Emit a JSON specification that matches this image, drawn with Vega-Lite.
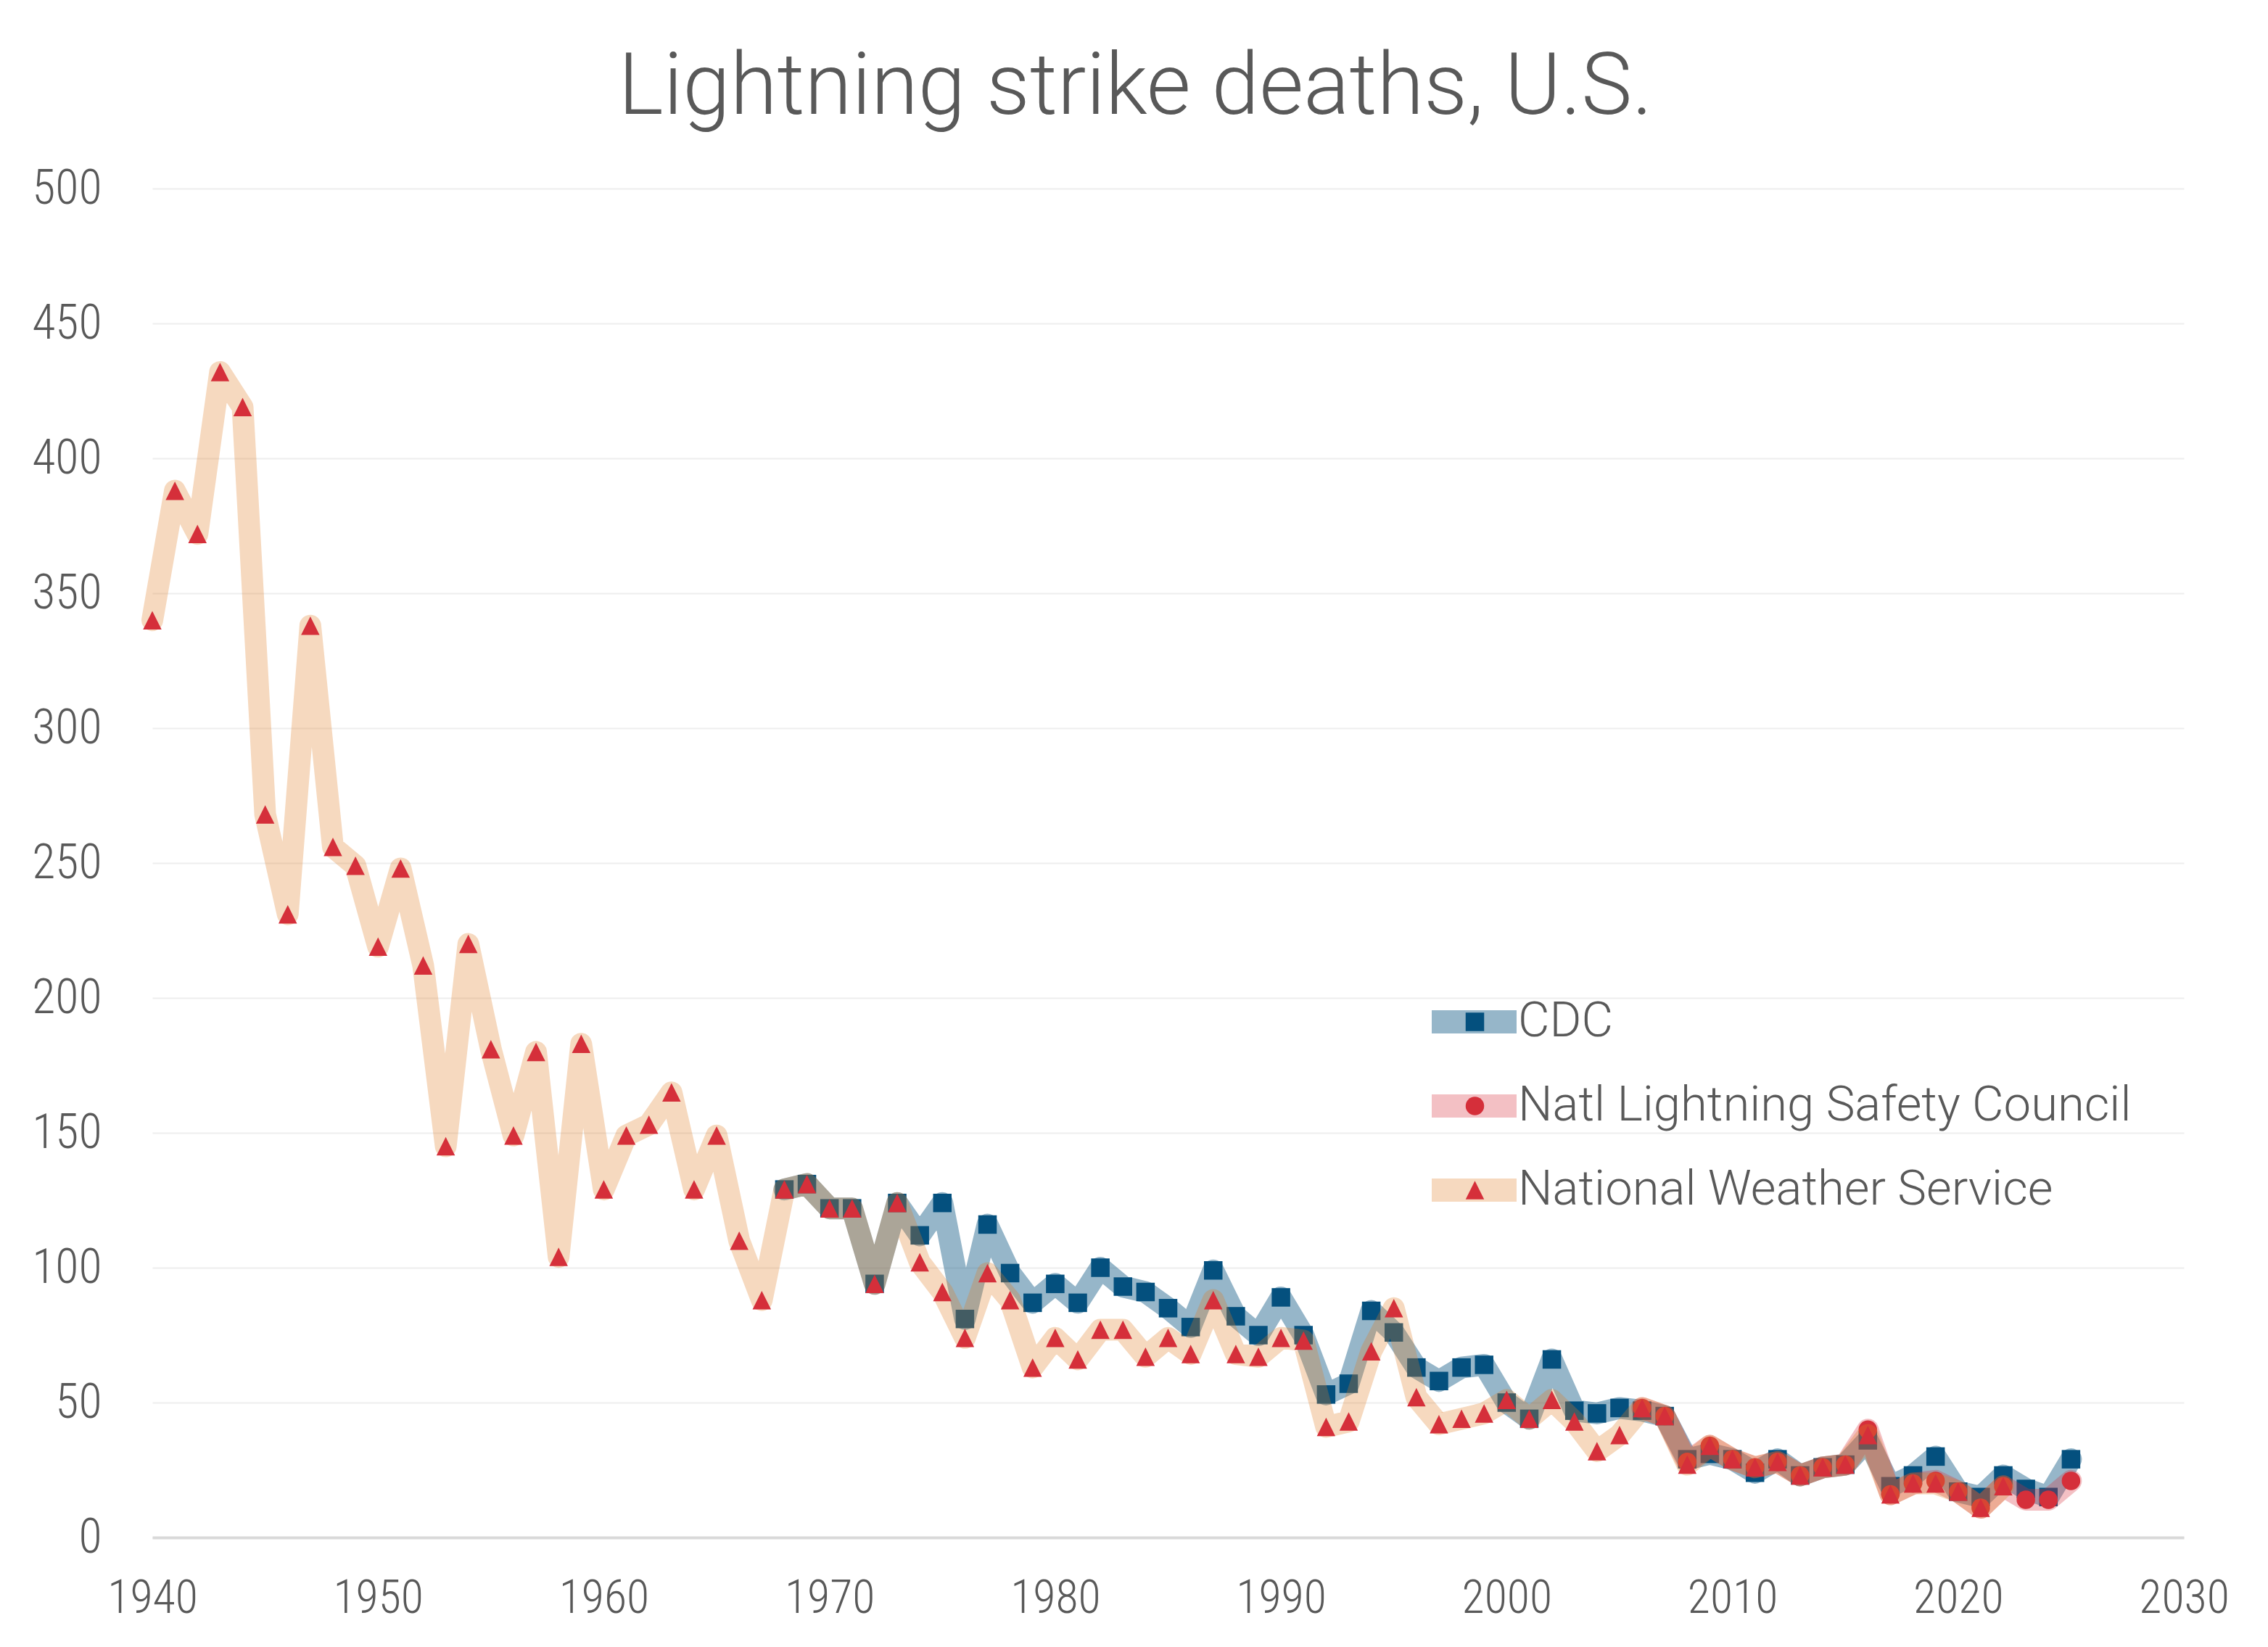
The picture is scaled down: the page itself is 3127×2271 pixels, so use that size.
{
  "$schema": "https://vega.github.io/schema/vega-lite/v6.json",
  "description": "Lightning strike deaths in the U.S., three sources.",
  "width": 2801,
  "height": 1860,
  "autosize": {"type": "none"},
  "padding": {"left": 210, "top": 260, "right": 116, "bottom": 151},
  "background": "white",
  "title": {
    "text": "Lightning strike deaths, U.S.",
    "fontSize": 118,
    "font": "Roboto, sans-serif",
    "fontWeight": 300,
    "color": "#595959",
    "anchor": "middle",
    "frame": "bounds",
    "dx": 7,
    "offset": 45
  },
  "data": {
    "values": [
      {"year": 1968, "deaths": 129, "series": "CDC"},
      {"year": 1969, "deaths": 131, "series": "CDC"},
      {"year": 1970, "deaths": 122, "series": "CDC"},
      {"year": 1971, "deaths": 122, "series": "CDC"},
      {"year": 1972, "deaths": 94, "series": "CDC"},
      {"year": 1973, "deaths": 124, "series": "CDC"},
      {"year": 1974, "deaths": 112, "series": "CDC"},
      {"year": 1975, "deaths": 124, "series": "CDC"},
      {"year": 1976, "deaths": 81, "series": "CDC"},
      {"year": 1977, "deaths": 116, "series": "CDC"},
      {"year": 1978, "deaths": 98, "series": "CDC"},
      {"year": 1979, "deaths": 87, "series": "CDC"},
      {"year": 1980, "deaths": 94, "series": "CDC"},
      {"year": 1981, "deaths": 87, "series": "CDC"},
      {"year": 1982, "deaths": 100, "series": "CDC"},
      {"year": 1983, "deaths": 93, "series": "CDC"},
      {"year": 1984, "deaths": 91, "series": "CDC"},
      {"year": 1985, "deaths": 85, "series": "CDC"},
      {"year": 1986, "deaths": 78, "series": "CDC"},
      {"year": 1987, "deaths": 99, "series": "CDC"},
      {"year": 1988, "deaths": 82, "series": "CDC"},
      {"year": 1989, "deaths": 75, "series": "CDC"},
      {"year": 1990, "deaths": 89, "series": "CDC"},
      {"year": 1991, "deaths": 75, "series": "CDC"},
      {"year": 1992, "deaths": 53, "series": "CDC"},
      {"year": 1993, "deaths": 57, "series": "CDC"},
      {"year": 1994, "deaths": 84, "series": "CDC"},
      {"year": 1995, "deaths": 76, "series": "CDC"},
      {"year": 1996, "deaths": 63, "series": "CDC"},
      {"year": 1997, "deaths": 58, "series": "CDC"},
      {"year": 1998, "deaths": 63, "series": "CDC"},
      {"year": 1999, "deaths": 64, "series": "CDC"},
      {"year": 2000, "deaths": 50, "series": "CDC"},
      {"year": 2001, "deaths": 44, "series": "CDC"},
      {"year": 2002, "deaths": 66, "series": "CDC"},
      {"year": 2003, "deaths": 47, "series": "CDC"},
      {"year": 2004, "deaths": 46, "series": "CDC"},
      {"year": 2005, "deaths": 48, "series": "CDC"},
      {"year": 2006, "deaths": 47, "series": "CDC"},
      {"year": 2007, "deaths": 45, "series": "CDC"},
      {"year": 2008, "deaths": 29, "series": "CDC"},
      {"year": 2009, "deaths": 31, "series": "CDC"},
      {"year": 2010, "deaths": 29, "series": "CDC"},
      {"year": 2011, "deaths": 24, "series": "CDC"},
      {"year": 2012, "deaths": 29, "series": "CDC"},
      {"year": 2013, "deaths": 23, "series": "CDC"},
      {"year": 2014, "deaths": 26, "series": "CDC"},
      {"year": 2015, "deaths": 27, "series": "CDC"},
      {"year": 2016, "deaths": 36, "series": "CDC"},
      {"year": 2017, "deaths": 19, "series": "CDC"},
      {"year": 2018, "deaths": 23, "series": "CDC"},
      {"year": 2019, "deaths": 30, "series": "CDC"},
      {"year": 2020, "deaths": 17, "series": "CDC"},
      {"year": 2021, "deaths": 15, "series": "CDC"},
      {"year": 2022, "deaths": 23, "series": "CDC"},
      {"year": 2023, "deaths": 18, "series": "CDC"},
      {"year": 2024, "deaths": 15, "series": "CDC"},
      {"year": 2025, "deaths": 29, "series": "CDC"},
      {"year": 2006, "deaths": 48, "series": "Natl Lightning Safety Council"},
      {"year": 2007, "deaths": 45, "series": "Natl Lightning Safety Council"},
      {"year": 2008, "deaths": 28, "series": "Natl Lightning Safety Council"},
      {"year": 2009, "deaths": 34, "series": "Natl Lightning Safety Council"},
      {"year": 2010, "deaths": 29, "series": "Natl Lightning Safety Council"},
      {"year": 2011, "deaths": 26, "series": "Natl Lightning Safety Council"},
      {"year": 2012, "deaths": 28, "series": "Natl Lightning Safety Council"},
      {"year": 2013, "deaths": 23, "series": "Natl Lightning Safety Council"},
      {"year": 2014, "deaths": 26, "series": "Natl Lightning Safety Council"},
      {"year": 2015, "deaths": 27, "series": "Natl Lightning Safety Council"},
      {"year": 2016, "deaths": 40, "series": "Natl Lightning Safety Council"},
      {"year": 2017, "deaths": 16, "series": "Natl Lightning Safety Council"},
      {"year": 2018, "deaths": 20, "series": "Natl Lightning Safety Council"},
      {"year": 2019, "deaths": 21, "series": "Natl Lightning Safety Council"},
      {"year": 2020, "deaths": 17, "series": "Natl Lightning Safety Council"},
      {"year": 2021, "deaths": 11, "series": "Natl Lightning Safety Council"},
      {"year": 2022, "deaths": 19, "series": "Natl Lightning Safety Council"},
      {"year": 2023, "deaths": 14, "series": "Natl Lightning Safety Council"},
      {"year": 2024, "deaths": 14, "series": "Natl Lightning Safety Council"},
      {"year": 2025, "deaths": 21, "series": "Natl Lightning Safety Council"},
      {"year": 1940, "deaths": 340, "series": "National Weather Service"},
      {"year": 1941, "deaths": 388, "series": "National Weather Service"},
      {"year": 1942, "deaths": 372, "series": "National Weather Service"},
      {"year": 1943, "deaths": 432, "series": "National Weather Service"},
      {"year": 1944, "deaths": 419, "series": "National Weather Service"},
      {"year": 1945, "deaths": 268, "series": "National Weather Service"},
      {"year": 1946, "deaths": 231, "series": "National Weather Service"},
      {"year": 1947, "deaths": 338, "series": "National Weather Service"},
      {"year": 1948, "deaths": 256, "series": "National Weather Service"},
      {"year": 1949, "deaths": 249, "series": "National Weather Service"},
      {"year": 1950, "deaths": 219, "series": "National Weather Service"},
      {"year": 1951, "deaths": 248, "series": "National Weather Service"},
      {"year": 1952, "deaths": 212, "series": "National Weather Service"},
      {"year": 1953, "deaths": 145, "series": "National Weather Service"},
      {"year": 1954, "deaths": 220, "series": "National Weather Service"},
      {"year": 1955, "deaths": 181, "series": "National Weather Service"},
      {"year": 1956, "deaths": 149, "series": "National Weather Service"},
      {"year": 1957, "deaths": 180, "series": "National Weather Service"},
      {"year": 1958, "deaths": 104, "series": "National Weather Service"},
      {"year": 1959, "deaths": 183, "series": "National Weather Service"},
      {"year": 1960, "deaths": 129, "series": "National Weather Service"},
      {"year": 1961, "deaths": 149, "series": "National Weather Service"},
      {"year": 1962, "deaths": 153, "series": "National Weather Service"},
      {"year": 1963, "deaths": 165, "series": "National Weather Service"},
      {"year": 1964, "deaths": 129, "series": "National Weather Service"},
      {"year": 1965, "deaths": 149, "series": "National Weather Service"},
      {"year": 1966, "deaths": 110, "series": "National Weather Service"},
      {"year": 1967, "deaths": 88, "series": "National Weather Service"},
      {"year": 1968, "deaths": 129, "series": "National Weather Service"},
      {"year": 1969, "deaths": 131, "series": "National Weather Service"},
      {"year": 1970, "deaths": 122, "series": "National Weather Service"},
      {"year": 1971, "deaths": 122, "series": "National Weather Service"},
      {"year": 1972, "deaths": 94, "series": "National Weather Service"},
      {"year": 1973, "deaths": 124, "series": "National Weather Service"},
      {"year": 1974, "deaths": 102, "series": "National Weather Service"},
      {"year": 1975, "deaths": 91, "series": "National Weather Service"},
      {"year": 1976, "deaths": 74, "series": "National Weather Service"},
      {"year": 1977, "deaths": 98, "series": "National Weather Service"},
      {"year": 1978, "deaths": 88, "series": "National Weather Service"},
      {"year": 1979, "deaths": 63, "series": "National Weather Service"},
      {"year": 1980, "deaths": 74, "series": "National Weather Service"},
      {"year": 1981, "deaths": 66, "series": "National Weather Service"},
      {"year": 1982, "deaths": 77, "series": "National Weather Service"},
      {"year": 1983, "deaths": 77, "series": "National Weather Service"},
      {"year": 1984, "deaths": 67, "series": "National Weather Service"},
      {"year": 1985, "deaths": 74, "series": "National Weather Service"},
      {"year": 1986, "deaths": 68, "series": "National Weather Service"},
      {"year": 1987, "deaths": 88, "series": "National Weather Service"},
      {"year": 1988, "deaths": 68, "series": "National Weather Service"},
      {"year": 1989, "deaths": 67, "series": "National Weather Service"},
      {"year": 1990, "deaths": 74, "series": "National Weather Service"},
      {"year": 1991, "deaths": 73, "series": "National Weather Service"},
      {"year": 1992, "deaths": 41, "series": "National Weather Service"},
      {"year": 1993, "deaths": 43, "series": "National Weather Service"},
      {"year": 1994, "deaths": 69, "series": "National Weather Service"},
      {"year": 1995, "deaths": 85, "series": "National Weather Service"},
      {"year": 1996, "deaths": 52, "series": "National Weather Service"},
      {"year": 1997, "deaths": 42, "series": "National Weather Service"},
      {"year": 1998, "deaths": 44, "series": "National Weather Service"},
      {"year": 1999, "deaths": 46, "series": "National Weather Service"},
      {"year": 2000, "deaths": 51, "series": "National Weather Service"},
      {"year": 2001, "deaths": 44, "series": "National Weather Service"},
      {"year": 2002, "deaths": 51, "series": "National Weather Service"},
      {"year": 2003, "deaths": 43, "series": "National Weather Service"},
      {"year": 2004, "deaths": 32, "series": "National Weather Service"},
      {"year": 2005, "deaths": 38, "series": "National Weather Service"},
      {"year": 2006, "deaths": 48, "series": "National Weather Service"},
      {"year": 2007, "deaths": 45, "series": "National Weather Service"},
      {"year": 2008, "deaths": 27, "series": "National Weather Service"},
      {"year": 2009, "deaths": 34, "series": "National Weather Service"},
      {"year": 2010, "deaths": 29, "series": "National Weather Service"},
      {"year": 2011, "deaths": 26, "series": "National Weather Service"},
      {"year": 2012, "deaths": 28, "series": "National Weather Service"},
      {"year": 2013, "deaths": 23, "series": "National Weather Service"},
      {"year": 2014, "deaths": 26, "series": "National Weather Service"},
      {"year": 2015, "deaths": 27, "series": "National Weather Service"},
      {"year": 2016, "deaths": 38, "series": "National Weather Service"},
      {"year": 2017, "deaths": 16, "series": "National Weather Service"},
      {"year": 2018, "deaths": 20, "series": "National Weather Service"},
      {"year": 2019, "deaths": 20, "series": "National Weather Service"},
      {"year": 2020, "deaths": 17, "series": "National Weather Service"},
      {"year": 2021, "deaths": 11, "series": "National Weather Service"},
      {"year": 2022, "deaths": 19, "series": "National Weather Service"}
    ]
  },
  "encoding": {
    "x": {
      "field": "year",
      "type": "quantitative",
      "scale": {"domain": [1940, 2030], "nice": false, "zero": false},
      "axis": {
        "title": null,
        "values": [1940, 1950, 1960, 1970, 1980, 1990, 2000, 2010, 2020, 2030],
        "format": "d",
        "grid": false,
        "ticks": false,
        "labelFlush": false,
        "domainColor": "#d9d9d9",
        "domainWidth": 4,
        "labelPadding": 52,
        "labelFontSize": 64,
        "labelFont": "Roboto Condensed, Liberation Sans Narrow, sans-serif",
        "labelFontWeight": 300,
        "labelColor": "#595959"
      }
    },
    "y": {
      "field": "deaths",
      "type": "quantitative",
      "scale": {"domain": [0, 500], "nice": false},
      "axis": {
        "title": null,
        "values": [0, 50, 100, 150, 200, 250, 300, 350, 400, 450, 500],
        "domain": false,
        "ticks": false,
        "labelFlush": false,
        "grid": true,
        "gridColor": "#eeeeee",
        "gridWidth": 2,
        "labelPadding": 70,
        "labelFontSize": 66,
        "labelFont": "Roboto Condensed, Liberation Sans Narrow, sans-serif",
        "labelFontWeight": 300,
        "labelColor": "#595959"
      }
    }
  },
  "layer": [
    {
      "transform": [{"filter": "datum.series === 'CDC'"}],
      "mark": {"type": "line", "strokeWidth": 30, "strokeJoin": "round", "strokeCap": "round"},
      "encoding": {
        "stroke": {
          "field": "series",
          "type": "nominal",
          "sort": ["CDC", "Natl Lightning Safety Council", "National Weather Service"],
          "scale": {
            "range": ["rgba(5,80,126,0.42)", "rgba(214,47,58,0.3)", "rgba(224,125,33,0.29)"]
          },
          "legend": {
            "title": null,
            "orient": "none",
            "legendX": 1748,
            "legendY": 1109,
            "padding": 0,
            "symbolType": "stroke",
            "symbolSize": 13689,
            "symbolStrokeWidth": 32,
            "clipHeight": 80,
            "labelOffset": -14,
            "labelLimit": 1500,
            "rowPadding": 36,
            "labelFontSize": 67,
            "labelFont": "Roboto, sans-serif",
            "labelFontWeight": 300,
            "labelColor": "#595959"
          }
        }
      }
    },
    {
      "transform": [{"filter": "datum.series === 'CDC'"}],
      "mark": {"type": "point", "filled": true, "opacity": 1, "size": 650, "strokeWidth": 0},
      "encoding": {
        "fill": {
          "field": "series",
          "type": "nominal",
          "scale": {
            "domain": ["CDC", "Natl Lightning Safety Council", "National Weather Service"],
            "range": ["#04507e", "#d52f3a", "#d52f3a"]
          },
          "legend": {
            "title": null,
            "orient": "none",
            "legendX": 1790,
            "legendY": 1109,
            "padding": 0,
            "symbolSize": 650,
            "symbolStrokeWidth": 0,
            "symbolOpacity": 1,
            "clipHeight": 80,
            "labelOpacity": 0,
            "labelLimit": 1500,
            "rowPadding": 36,
            "labelFontSize": 67,
            "labelFont": "Roboto, sans-serif",
            "labelFontWeight": 300
          }
        },
        "shape": {
          "field": "series",
          "type": "nominal",
          "scale": {
            "domain": ["CDC", "Natl Lightning Safety Council", "National Weather Service"],
            "range": ["square", "circle", "M0,-1L1,1L-1,1Z"]
          }
        }
      }
    },
    {
      "transform": [{"filter": "datum.series === 'Natl Lightning Safety Council'"}],
      "mark": {"type": "line", "strokeWidth": 30, "strokeJoin": "round", "strokeCap": "round"},
      "encoding": {
        "stroke": {"field": "series", "type": "nominal", "sort": ["CDC", "Natl Lightning Safety Council", "National Weather Service"]}
      }
    },
    {
      "transform": [{"filter": "datum.series === 'Natl Lightning Safety Council'"}],
      "mark": {"type": "point", "filled": true, "opacity": 1, "size": 650, "strokeWidth": 0},
      "encoding": {
        "fill": {"field": "series", "type": "nominal"},
        "shape": {"field": "series", "type": "nominal"}
      }
    },
    {
      "transform": [{"filter": "datum.series === 'National Weather Service'"}],
      "mark": {"type": "line", "strokeWidth": 30, "strokeJoin": "round", "strokeCap": "round"},
      "encoding": {
        "stroke": {"field": "series", "type": "nominal", "sort": ["CDC", "Natl Lightning Safety Council", "National Weather Service"]}
      }
    },
    {
      "transform": [{"filter": "datum.series === 'National Weather Service'"}],
      "mark": {"type": "point", "filled": true, "opacity": 1, "size": 650, "strokeWidth": 0},
      "encoding": {
        "fill": {"field": "series", "type": "nominal"},
        "shape": {"field": "series", "type": "nominal"}
      }
    }
  ],
  "config": {
    "view": {"stroke": null}
  }
}
